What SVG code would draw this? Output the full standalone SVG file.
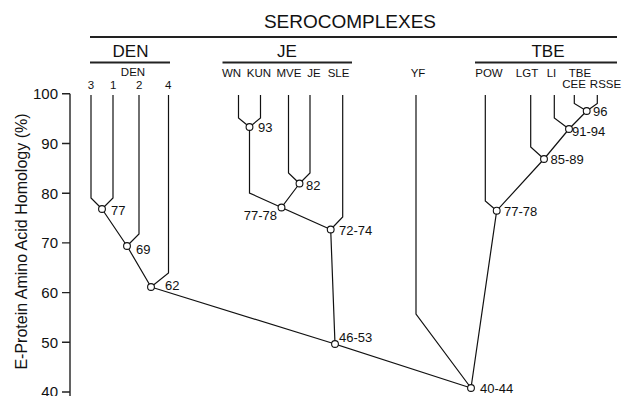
<svg xmlns="http://www.w3.org/2000/svg" width="626" height="396" viewBox="0 0 626 396">
  <style>
    text { font-family: "Liberation Sans", Arial, sans-serif; fill: #111; }
    .hdr { font-size: 19px; text-anchor: middle; }
    .grp { font-size: 17px; text-anchor: middle; }
    .leaf { font-size: 11.5px; text-anchor: middle; }
    .val { font-size: 13px; }
    .tick { font-size: 15px; text-anchor: end; }
    .axlab { font-size: 16px; text-anchor: middle; }
    .rule { stroke: #222; stroke-width: 1.8; fill: none; }
    .edge { stroke: #111; stroke-width: 1.2; fill: none; stroke-linejoin: miter; }
    .node { fill: #fff; stroke: #111; stroke-width: 1.1; }
  </style>

  <!-- serocomplex headings -->
  <g id="headings">
    <text class="hdr" x="350" y="28">SEROCOMPLEXES</text>
    <line class="rule" x1="90" y1="37" x2="617" y2="37"/>
    <text class="grp" x="130.5" y="56.5">DEN</text>
    <line class="rule" x1="90" y1="62.5" x2="170" y2="62.5"/>
    <text class="grp" x="287" y="56.5">JE</text>
    <line class="rule" x1="222.5" y1="62.5" x2="352" y2="62.5"/>
    <text class="grp" x="548" y="56.5">TBE</text>
    <line class="rule" x1="475" y1="62.5" x2="617" y2="62.5"/>
  </g>

  <!-- y axis -->
  <g id="axis">
    <path class="rule" style="stroke-width:1.4" d="M70,93.8 V396 M62,93.8 H70 M62,143.5 H70 M62,193.2 H70 M62,242.9 H70 M62,292.6 H70 M62,342.3 H70 M62,392 H70"/>
    <text class="tick" x="58" y="99">100</text>
    <text class="tick" x="58" y="148.8">90</text>
    <text class="tick" x="58" y="198.5">80</text>
    <text class="tick" x="58" y="248.2">70</text>
    <text class="tick" x="58" y="297.9">60</text>
    <text class="tick" x="58" y="347.6">50</text>
    <text class="tick" x="58" y="397.3">40</text>
    <text class="axlab" transform="translate(27,241.5) rotate(-90)">E-Protein Amino Acid Homology (%)</text>
  </g>

  <!-- leaf labels -->
  <g id="leaves">
    <text class="leaf" x="133" y="75.5">DEN</text>
    <text class="leaf" x="91" y="89">3</text>
    <text class="leaf" x="113.3" y="89">1</text>
    <text class="leaf" x="139.3" y="89">2</text>
    <text class="leaf" x="168.3" y="89">4</text>
    <text class="leaf" x="231.5" y="76.5">WN</text>
    <text class="leaf" x="259" y="76.5">KUN</text>
    <text class="leaf" x="289" y="76.5">MVE</text>
    <text class="leaf" x="314" y="76.5">JE</text>
    <text class="leaf" x="338.5" y="76.5">SLE</text>
    <text class="leaf" x="418" y="76.5">YF</text>
    <text class="leaf" x="489" y="76.5">POW</text>
    <text class="leaf" x="527" y="76.5">LGT</text>
    <text class="leaf" x="551.5" y="76.5">LI</text>
    <text class="leaf" x="580" y="76.5">TBE</text>
    <text class="leaf" x="574" y="87.5">CEE</text>
    <text class="leaf" x="605.5" y="87.5">RSSE</text>
  </g>

  <!-- tree branches -->
  <g id="connectors">
    <path class="edge" d="M91,95 V198 L102,209 M113,95 V198 L102,209"/>
    <path class="edge" d="M102,209 L127,246 M139,95 V234 L127,246"/>
    <path class="edge" d="M127,246 L151,287 M168.5,95 V273 L151,287"/>
    <path class="edge" d="M151,287 L335,344"/>
    <path class="edge" d="M238.5,95 V118 L249.5,127 M260.5,95 V118 L249.5,127"/>
    <path class="edge" d="M249.5,127 V193 L281.5,207.5"/>
    <path class="edge" d="M288.5,95 V173 L299.5,183.5 M310,95 V173 L299.5,183.5"/>
    <path class="edge" d="M299.5,183.5 L281.5,207.5 L330.7,229.5"/>
    <path class="edge" d="M342.7,95 V217 L330.7,229.5"/>
    <path class="edge" d="M330.7,229.5 L335,344 L471,388"/>
    <path class="edge" d="M416,95 V314 L471,388"/>
    <path class="edge" d="M485.3,95 V201 L496.7,210.7"/>
    <path class="edge" d="M530.7,95 V147 L544,159"/>
    <path class="edge" d="M554.3,95 V118 L569,129"/>
    <path class="edge" d="M574.3,95 V103.5 L586.7,111 M597.3,95 V103.5 L586.7,111"/>
    <path class="edge" d="M586.7,111 L569,129 L544,159 L496.7,210.7 L471,388"/>
  </g>

  <!-- branch points with homology values -->
  <g id="n77"><circle class="node" cx="102" cy="209" r="3.4"/><text class="val" x="111" y="215">77</text></g>
  <g id="n69"><circle class="node" cx="127" cy="246" r="3.4"/><text class="val" x="136" y="254">69</text></g>
  <g id="n62"><circle class="node" cx="151" cy="287" r="3.4"/><text class="val" x="165" y="290">62</text></g>
  <g id="n93"><circle class="node" cx="249.5" cy="127" r="3.4"/><text class="val" x="258" y="132">93</text></g>
  <g id="n82"><circle class="node" cx="299.5" cy="183.5" r="3.4"/><text class="val" x="306" y="190">82</text></g>
  <g id="n77-78je"><circle class="node" cx="281.5" cy="207.5" r="3.4"/><text class="val" x="277" y="220" text-anchor="end">77-78</text></g>
  <g id="n72-74"><circle class="node" cx="330.7" cy="229.5" r="3.4"/><text class="val" x="339" y="234.5">72-74</text></g>
  <g id="n46-53"><circle class="node" cx="335" cy="344" r="3.4"/><text class="val" x="339" y="342">46-53</text></g>
  <g id="n40-44"><circle class="node" cx="471" cy="388" r="3.4"/><text class="val" x="480" y="393">40-44</text></g>
  <g id="n77-78tbe"><circle class="node" cx="496.7" cy="210.7" r="3.4"/><text class="val" x="504" y="216">77-78</text></g>
  <g id="n85-89"><circle class="node" cx="544" cy="159" r="3.4"/><text class="val" x="550.5" y="163.5">85-89</text></g>
  <g id="n91-94"><circle class="node" cx="569" cy="129" r="3.4"/><text class="val" x="572" y="135.5">91-94</text></g>
  <g id="n96"><circle class="node" cx="586.7" cy="111" r="3.4"/><text class="val" x="593" y="116">96</text></g>
</svg>
